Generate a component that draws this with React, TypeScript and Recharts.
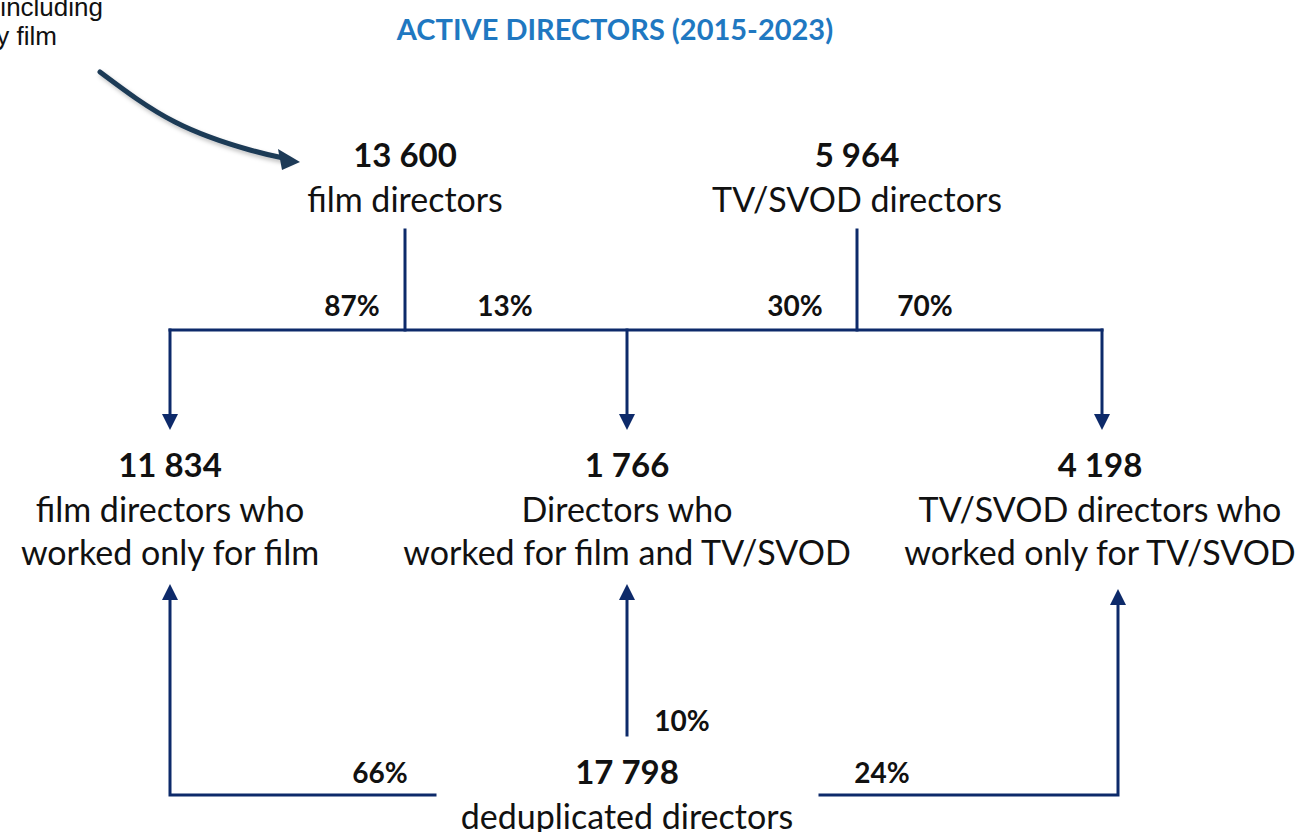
import { ComposedChart, Line, Scatter, XAxis, YAxis } from "recharts";

const W = 1301;
const H = 832;
const NAVY = "#0d2a6a";
const SLATE = "#1d3a57";
const TITLE_BLUE = "#1f78c1";
const FONT = "Lato, 'Open Sans', sans-serif";

// ── Data ─────────────────────────────────────────────────────────────────────
const TITLE = "ACTIVE DIRECTORS (2015-2023)";
const NOTE = ["Number of directors, including", "fiction and documentary film"];

const NODE_VALUES = ["13 600", "5 964", "11 834", "1 766", "4 198", "17 798"];
const NODE_LABELS = [
  ["film directors"],
  ["TV/SVOD directors"],
  ["film directors who", "worked only for film"],
  ["Directors who", "worked for film and TV/SVOD"],
  ["TV/SVOD directors who", "worked only for TV/SVOD"],
  ["deduplicated directors"],
];
const NODE_X = [405, 857, 170, 627, 1100, 627];
const NODE_Y = [154, 154, 464, 464, 464, 771];

const SHARES = ["87%", "13%", "30%", "70%", "10%", "66%", "24%"];
const SHARE_X = [352, 505, 795, 925, 682, 380, 882];
const SHARE_Y = [305, 305, 305, 305, 720, 772, 772];

// connector polylines (diagram coordinates)
const LINKS = [
  [[405, 230], [405, 330]],
  [[857, 230], [857, 330]],
  [[170, 330], [1102, 330]],
  [[170, 330], [170, 416]],
  [[627, 330], [627, 416]],
  [[1102, 330], [1102, 416]],
  [[627, 735], [627, 598]],
  [[435, 795], [170, 795], [170, 598]],
  [[820, 795], [1118, 795], [1118, 603]],
];
// arrow tips: x, y, direction
const TIPS: [number, number, string][] = [
  [170, 430, "down"],
  [627, 430, "down"],
  [1102, 430, "down"],
  [627, 584, "up"],
  [170, 584, "up"],
  [1118, 589, "up"],
];
const CURVE = [[100, 72], [175, 122], [250, 150], [288, 159]];

const nodes = NODE_VALUES.map((v, i) => ({ x: NODE_X[i], y: NODE_Y[i], value: v, lines: NODE_LABELS[i] }));
const shares = SHARES.map((s, i) => ({ x: SHARE_X[i], y: SHARE_Y[i], label: s }));
const tips = TIPS.map(([x, y, dir]) => ({ x, y, dir }));

function NodeShape(props: any) {
  const { cx, cy, payload } = props;
  return (
    <g>
      <text x={cx} y={cy} textAnchor="middle" dominantBaseline="central" fontFamily={FONT} fontWeight={700} fontSize={33} fill="#111">
        {payload.value}
      </text>
      {payload.lines.map((l: string, i: number) => (
        <text key={i} x={cx} y={cy + 44 + i * 43} textAnchor="middle" dominantBaseline="central" fontFamily={FONT} fontSize={34} fill="#111">
          {l}
        </text>
      ))}
    </g>
  );
}

function ShareShape(props: any) {
  const { cx, cy, payload } = props;
  return (
    <text x={cx} y={cy} textAnchor="middle" dominantBaseline="central" fontFamily={FONT} fontWeight={700} fontSize={28} fill="#111">
      {payload.label}
    </text>
  );
}

function TipShape(props: any) {
  const { cx, cy, payload } = props;
  const s = payload.dir === "down" ? -1 : 1;
  return <path d={`M${cx},${cy} L${cx - 8},${cy + s * 16} L${cx + 8},${cy + s * 16} Z`} fill={NAVY} />;
}

function CurveHead(props: any) {
  const { cx, cy, index } = props;
  if (index !== CURVE.length - 1) return <g key={index} />;
  return (
    <path
      key={index}
      d={`M${cx + 12},${cy + 3} L${cx - 10},${cy - 10} L${cx - 6},${cy + 11} Z`}
      fill={SLATE}
    />
  );
}

export default function App() {
  return (
    <div style={{ position: "absolute", left: 0, top: 0, width: W, height: H, background: "#fff" }}>
      <ComposedChart width={W} height={H} margin={{ top: 0, right: 0, bottom: 0, left: 0 }}>
        <defs>
          <filter id="shadow" x="-20%" y="-20%" width="140%" height="140%">
            <feDropShadow dx="2" dy="3" stdDeviation="2" floodColor="#000" floodOpacity="0.25" />
          </filter>
        </defs>
        <XAxis type="number" dataKey="x" domain={[0, W]} hide allowDataOverflow />
        <YAxis type="number" dataKey="y" domain={[0, H]} reversed hide allowDataOverflow />

        {LINKS.map((pts, i) => (
          <Line
            key={i}
            data={pts.map(([x, y]) => ({ x, y }))}
            dataKey="y"
            type="linear"
            stroke={NAVY}
            strokeWidth={3}
            dot={false}
            activeDot={false}
            isAnimationActive={false}
            strokeLinecap="square"
          />
        ))}

        <Line
          data={CURVE.map(([x, y]) => ({ x, y }))}
          dataKey="y"
          type="natural"
          stroke={SLATE}
          strokeWidth={5}
          strokeLinecap="round"
          dot={CurveHead}
          activeDot={false}
          isAnimationActive={false}
          style={{ filter: "url(#shadow)" }}
        />

        <Scatter data={tips} dataKey="y" shape={TipShape} isAnimationActive={false} />
        <Scatter data={nodes} dataKey="y" shape={NodeShape} isAnimationActive={false} />
        <Scatter data={shares} dataKey="y" shape={ShareShape} isAnimationActive={false} />

        <text x={615} y={28} textAnchor="middle" dominantBaseline="central" fontFamily={FONT} fontWeight={700} fontSize={29} fill={TITLE_BLUE}>
          {TITLE}
        </text>
        {NOTE.map((t, i) => (
          <text key={i} x={i === 0 ? 103 : 57} y={16 + i * 29} textAnchor="end" fontFamily="'Liberation Sans', Arial, sans-serif" fontSize={26} fill="#111">
            {t}
          </text>
        ))}
      </ComposedChart>
    </div>
  );
}
